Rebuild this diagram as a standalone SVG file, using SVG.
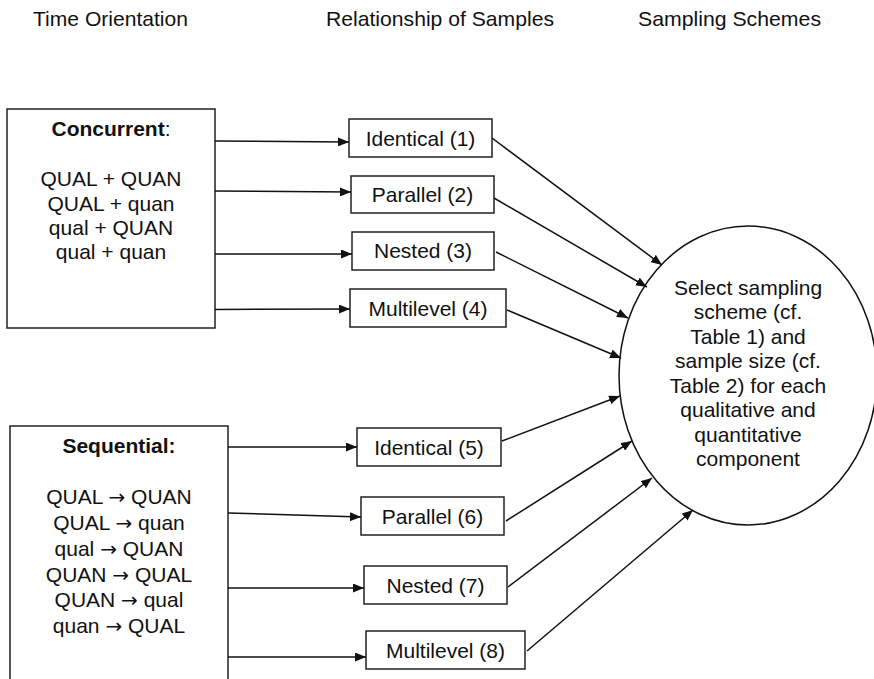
<svg xmlns="http://www.w3.org/2000/svg" width="874" height="679" viewBox="0 0 874 679">
<style>
text{font-family:"Liberation Sans",Arial,sans-serif;font-size:21px;fill:#111}
.c{text-anchor:middle}
.b{font-weight:bold}
.ar{font-family:"DejaVu Sans",sans-serif;font-size:20px}
.box{fill:#fff;stroke:#222;stroke-width:1.5}
.ln{stroke:#111;stroke-width:1.5;fill:none;marker-end:url(#ah)}
</style>
<defs>
<marker id="ah" markerUnits="userSpaceOnUse" markerWidth="11" markerHeight="9" refX="11" refY="4.5" orient="auto">
<path d="M0,0 L11,4.5 L0,9 z" fill="#111"/>
</marker>
</defs>
<rect width="874" height="679" fill="#fff"/>
<g id="headers">
<text x="33" y="26" textLength="155" lengthAdjust="spacingAndGlyphs">Time Orientation</text>
<text x="326" y="26" textLength="228" lengthAdjust="spacingAndGlyphs">Relationship of Samples</text>
<text x="638" y="26" textLength="183" lengthAdjust="spacingAndGlyphs">Sampling Schemes</text>
</g>
<g id="concurrent">
<rect class="box" x="7" y="109" width="208" height="219"/>
<text class="c" x="111" y="136"><tspan class="b">Concurrent</tspan>:</text>
<text class="c" x="111" y="186">QUAL + QUAN</text>
<text class="c" x="111" y="210.5">QUAL + quan</text>
<text class="c" x="111" y="235">qual + QUAN</text>
<text class="c" x="111" y="259">qual + quan</text>
</g>
<g id="sequential">
<rect class="box" x="10" y="426" width="218" height="275"/>
<text class="c b" x="119" y="453">Sequential:</text>
<text class="c" x="119" y="504">QUAL <tspan class="ar">→</tspan> QUAN</text>
<text class="c" x="119" y="530">QUAL <tspan class="ar">→</tspan> quan</text>
<text class="c" x="119" y="556">qual <tspan class="ar">→</tspan> QUAN</text>
<text class="c" x="119" y="582">QUAN <tspan class="ar">→</tspan> QUAL</text>
<text class="c" x="119" y="607">QUAN <tspan class="ar">→</tspan> qual</text>
<text class="c" x="119" y="633">quan <tspan class="ar">→</tspan> QUAL</text>
</g>
<g id="identical1"><rect class="box" x="349" y="119" width="143" height="38"/><text class="c" x="420.5" y="145.5">Identical (1)</text></g>
<g id="parallel2"><rect class="box" x="351" y="176" width="143" height="37"/><text class="c" x="422.5" y="202">Parallel (2)</text></g>
<g id="nested3"><rect class="box" x="352" y="232" width="142" height="38"/><text class="c" x="423" y="258">Nested (3)</text></g>
<g id="multilevel4"><rect class="box" x="350" y="289" width="156" height="38"/><text class="c" x="428" y="316">Multilevel (4)</text></g>
<g id="identical5"><rect class="box" x="357" y="428" width="144" height="38"/><text class="c" x="429" y="454.5">Identical (5)</text></g>
<g id="parallel6"><rect class="box" x="361" y="497" width="143" height="38"/><text class="c" x="432.5" y="524">Parallel (6)</text></g>
<g id="nested7"><rect class="box" x="364" y="566" width="143" height="38"/><text class="c" x="435.5" y="593">Nested (7)</text></g>
<g id="multilevel8"><rect class="box" x="366" y="631" width="159" height="38"/><text class="c" x="445.5" y="658">Multilevel (8)</text></g>
<g id="select">
<ellipse cx="748" cy="375.5" rx="129" ry="149.5" fill="#fff" stroke="#111" stroke-width="1.5"/>
<text class="c" x="748" y="295">Select sampling</text>
<text class="c" x="748" y="319">scheme (cf.</text>
<text class="c" x="748" y="344">Table 1) and</text>
<text class="c" x="748" y="368">sample size (cf.</text>
<text class="c" x="748" y="393">Table 2) for each</text>
<text class="c" x="748" y="417">qualitative and</text>
<text class="c" x="748" y="442">quantitative</text>
<text class="c" x="748" y="466">component</text>
</g>
<g id="connectors">
<line class="ln" x1="215" y1="141" x2="349" y2="142"/>
<line class="ln" x1="215" y1="191" x2="351" y2="192"/>
<line class="ln" x1="215" y1="254" x2="352" y2="254"/>
<line class="ln" x1="215" y1="309.5" x2="350" y2="309"/>
<line class="ln" x1="228" y1="447" x2="357" y2="447"/>
<line class="ln" x1="228" y1="513" x2="361" y2="517"/>
<line class="ln" x1="228" y1="588" x2="364" y2="588"/>
<line class="ln" x1="228" y1="657" x2="366" y2="657"/>
<line class="ln" x1="492" y1="138" x2="662" y2="265"/>
<line class="ln" x1="494" y1="198" x2="647" y2="287"/>
<line class="ln" x1="496" y1="252" x2="628" y2="318"/>
<line class="ln" x1="507" y1="310" x2="621" y2="358"/>
<line class="ln" x1="502" y1="441" x2="620" y2="396"/>
<line class="ln" x1="506" y1="521" x2="632" y2="441"/>
<line class="ln" x1="508" y1="587" x2="652" y2="478"/>
<line class="ln" x1="527" y1="651" x2="693" y2="510"/>
</g>
</svg>
